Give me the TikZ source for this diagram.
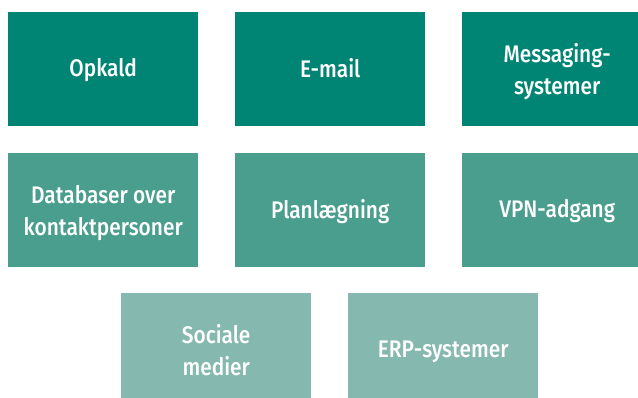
\documentclass[tikz,border=0pt]{standalone}
\usepackage{fontspec}
\setmainfont{Fira Sans Medium}[FakeStretch=0.87]
\definecolor{tealA}{HTML}{008575}
\definecolor{tealB}{HTML}{4A9E8E}
\definecolor{tealC}{HTML}{85B8AE}
\begin{document}
\begin{tikzpicture}[x=1pt,y=-1pt,
  tile/.style={anchor=north west,minimum width=190pt,minimum height=114pt,
    inner sep=0pt},
  tileA/.style={tile,fill=tealA},
  tileB/.style={tile,fill=tealB},
  tileC/.style={tile,fill=tealC},
  % fixed top and bottom struts keep every caption block at the same metrics
  caption/.style={inner sep=0pt,text=white,align=center,
    font=\fontsize{24}{32}\selectfont,
    execute at begin node={\rule{0pt}{18pt}},
    execute at end node={\rule[-6pt]{0pt}{6pt}}},
  one/.style={label={[caption,yshift=-1.5pt]center:#1}},
  two/.style={label={[caption,yshift=-3pt]center:#1}}]
\useasboundingbox (0,0) rectangle (638,398);
\clip (0,0) rectangle (638,398);
\fill[white] (0,0) rectangle (638,398);
% first row
\node[tileA,one={Opkald}] (opkald) at (8,12) {};
\node[tileA,one={E-mail}] (email) at (235,12) {};
\node[tileA,two={Messaging-\\systemer}] (msg) at (462,12) {};
% second row
\node[tileB,two={Databaser over\\kontaktpersoner}] (db) at (8,153) {};
\node[tileB,one={Planlægning}] (plan) at (235,153) {};
\node[tileB,one={VPN-adgang}] (vpn) at (462,153) {};
% third row
\node[tileC,two={Sociale\\medier}] (social) at (121,293) {};
\node[tileC,one={ERP-systemer}] (erp) at (348,293) {};
\end{tikzpicture}
\end{document}
